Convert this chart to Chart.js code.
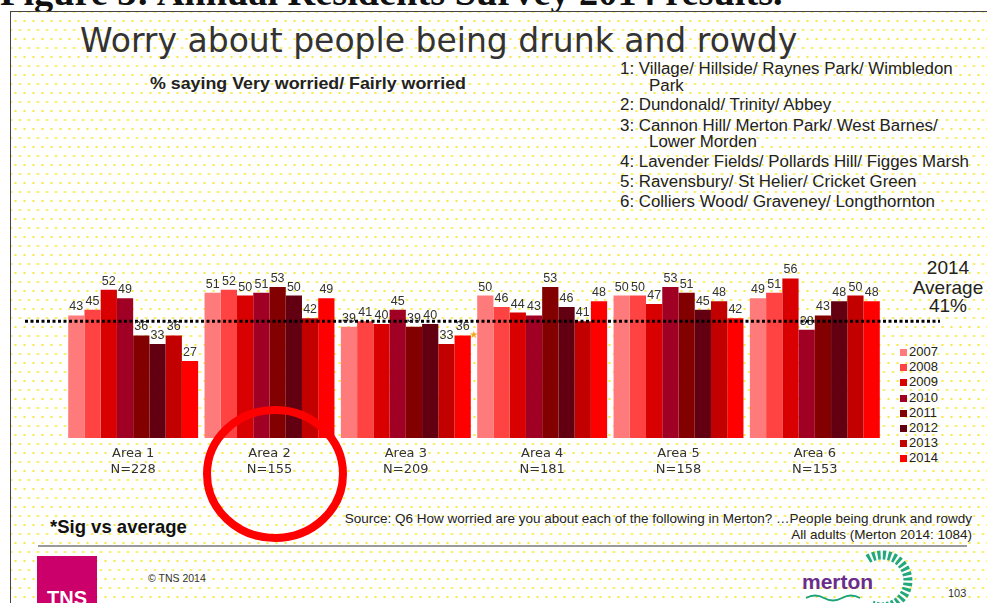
<!DOCTYPE html>
<html><head><meta charset="utf-8">
<script src="https://cdn.jsdelivr.net/npm/chart.js@4.4.0/dist/chart.umd.min.js"></script>
<style>
html,body{margin:0;padding:0;background:#fff;}
body{width:987px;height:603px;overflow:hidden;position:relative;font-family:"Liberation Sans",Arial,sans-serif;}
#fig{position:absolute;left:0;top:-26px;font:bold 37px "Liberation Serif",serif;color:#111;white-space:nowrap;line-height:37px;transform:scaleX(1.035);transform-origin:0 0;}
#frame{position:absolute;left:10px;top:11px;width:990px;height:600px;border:1.5px solid #444;
 background-color:#fff;
 background-image:radial-gradient(circle,#f7ea4a 0.9px,transparent 1.4px),radial-gradient(circle,#f7ea4a 0.9px,transparent 1.4px);
 background-size:9px 18px,9px 18px;background-position:0 0,4.5px 9px;}
canvas{position:absolute;left:0;top:0;}
.t{position:absolute;white-space:nowrap;color:#222;}
.sx{transform-origin:0 0;}
#title{left:80px;top:21px;font:33px "DejaVu Sans",sans-serif;color:#333;line-height:40px;}
#sub{left:150px;top:74px;font:bold 16.5px "Liberation Sans",sans-serif;color:#222;transform:scaleX(1.08);}
.key{font-size:16px;line-height:16px;color:#222;transform:scaleX(1.055);}
.avg{font-size:19px;line-height:19px;color:#222;width:100px;text-align:center;left:898px;}
#legend{position:absolute;left:900px;top:344px;font:13px "Liberation Sans",sans-serif;color:#222;}
#legend div{height:15.2px;line-height:15px;white-space:nowrap;}
#legend span{display:inline-block;width:7px;height:7px;margin-right:2px;vertical-align:0px;}
#sig{left:50px;top:516px;font:bold 18.5px "Liberation Sans",sans-serif;color:#111;}
.src{font-size:13.5px;color:#222;right:15px;text-align:right;}
#rule{position:absolute;left:38px;top:545px;width:929px;height:2px;background:#9a9a9a;}
#tns{position:absolute;left:37px;top:556px;width:60px;height:50px;background:#cc006a;}
#tns div{position:absolute;left:0;bottom:-4px;width:100%;text-align:center;color:#fff;font:bold 20px "Liberation Sans Narrow","Liberation Sans",sans-serif;}
#copy{left:148px;top:572px;font-size:10.5px;color:#333;}
#page{left:948px;top:587px;font-size:11px;color:#333;}
#merton{left:802px;top:570px;font:bold 21px "Liberation Sans",sans-serif;color:#6b2d8c;}
#deco{position:absolute;left:0;top:0;z-index:2;}
</style></head>
<body>
<div id="fig">Figure 3: Annual Residents Survey 2014 results.</div>
<div id="frame"></div>
<div class="t" id="title">Worry about people being drunk and rowdy</div>
<div class="t sx" id="sub">% saying Very worried/ Fairly worried</div>
<div class="t key sx" style="left:620px;top:61px">1: Village/ Hillside/ Raynes Park/ Wimbledon</div>
<div class="t key sx" style="left:649px;top:78px">Park</div>
<div class="t key sx" style="left:620px;top:97px">2: Dundonald/ Trinity/ Abbey</div>
<div class="t key sx" style="left:620px;top:118px">3: Cannon Hill/ Merton Park/ West Barnes/</div>
<div class="t key sx" style="left:649px;top:134px">Lower Morden</div>
<div class="t key sx" style="left:620px;top:154px">4: Lavender Fields/ Pollards Hill/ Figges Marsh</div>
<div class="t key sx" style="left:620px;top:174px">5: Ravensbury/ St Helier/ Cricket Green</div>
<div class="t key sx" style="left:620px;top:194px">6: Colliers Wood/ Graveney/ Longthornton</div>
<div class="t avg" style="top:258px">2014</div>
<div class="t avg" style="top:278px">Average</div>
<div class="t avg" style="top:296px">41%</div>
<div id="legend"></div>
<div class="t" id="sig">*Sig vs average</div>
<div class="t src" style="top:511px">Source: Q6 How worried are you about each of the following in Merton? …People being drunk and rowdy</div>
<div class="t src" style="top:527px">All adults (Merton 2014: 1084)</div>
<div id="rule"></div>
<div id="tns"><div>TNS</div></div>
<div class="t" id="copy">© TNS 2014</div>
<div class="t" id="merton">merton</div>
<div class="t" id="page">103</div>
<canvas id="c" width="987" height="603"></canvas>
<svg id="deco" width="987" height="603">
 <ellipse cx="275" cy="474" rx="68" ry="64" fill="none" stroke="#ff0000" stroke-width="8"/>
 <path d="M806 598 q9 -5 18 0 t18 0 t18 0" fill="none" stroke="#1aa37a" stroke-width="2"/>
 <path d="M868 559 A26 26 0 1 1 872 605" fill="none" stroke="#22a87c" stroke-width="9" stroke-dasharray="3 2.2"/>
</svg>
<script>
const areas = ["Area 1","Area 2","Area 3","Area 4","Area 5","Area 6"];
const sampleSizes = ["N=228","N=155","N=209","N=181","N=158","N=153"];
const years = ["2007","2008","2009","2010","2011","2012","2013","2014"];
const v2007 = [43,51,39,50,50,49];
const v2008 = [45,52,41,46,50,51];
const v2009 = [52,50,40,44,47,56];
const v2010 = [49,51,45,43,53,38];
const v2011 = [36,53,39,53,51,43];
const v2012 = [33,50,40,46,45,48];
const v2013 = [36,42,33,41,48,50];
const v2014 = [27,49,36,48,42,48];
const sig2014 = [false,false,true,false,false,false];
const average2014 = 41;
const series = [v2007,v2008,v2009,v2010,v2011,v2012,v2013,v2014];
const colors = ['#ff7b7b','#ff4242','#d80000','#a00024','#820000','#620012','#c20000','#ff0000'];

const lg = document.getElementById('legend');
years.forEach((y,i)=>{const d=document.createElement('div');d.innerHTML='<span style="background:'+colors[i]+'"></span>'+y;lg.appendChild(d);});

const overlay = {
 id:'overlay',
 afterDatasetsDraw(chart){
  const c = chart.ctx, ys = chart.scales.y;
  const yy = ys.getPixelForValue(average2014);
  c.save();
  c.strokeStyle='#000'; c.lineWidth=3; c.setLineDash([3,2.5]);
  c.beginPath(); c.moveTo(25,yy); c.lineTo(940,yy); c.stroke();
  c.setLineDash([]);
  c.font='12.5px "Liberation Sans", Arial, sans-serif';
  c.fillStyle='#333'; c.textAlign='center'; c.textBaseline='alphabetic';
  chart.data.datasets.forEach((ds,di)=>{
   chart.getDatasetMeta(di).data.forEach((b,i)=>{
    c.fillText(String(ds.data[i]), b.x, b.y-5);
    if(di===7 && sig2014[i]){
     c.save(); c.fillStyle='#f4a51c'; c.font='10px "DejaVu Sans", sans-serif';
     c.fillText('★', b.x+11, b.y+3); c.restore();
    }
   });
  });
  c.restore();
 }
};

new Chart(document.getElementById('c'), {
 type:'bar',
 data:{
  labels: areas.map((a,i)=>[a, sampleSizes[i]]),
  datasets: years.map((y,i)=>({label:y, data:series[i], backgroundColor:colors[i], borderWidth:0, categoryPercentage:0.953, barPercentage:1}))
 },
 options:{
  responsive:false, animation:false,
  layout:{padding:{left:65,right:104,top:267,bottom:0}},
  plugins:{legend:{display:false}, tooltip:{enabled:false}},
  scales:{
   x:{grid:{display:false,drawTicks:false}, border:{display:false},
      ticks:{padding:7, color:'#333', maxRotation:0, autoSkip:false, font:{family:'DejaVu Sans', size:13, lineHeight:1.25}},
      afterFit(s){ s.height = 165; }},
   y:{display:false, min:0, max:60}
  }
 },
 plugins:[overlay]
});
</script>
</body></html>
